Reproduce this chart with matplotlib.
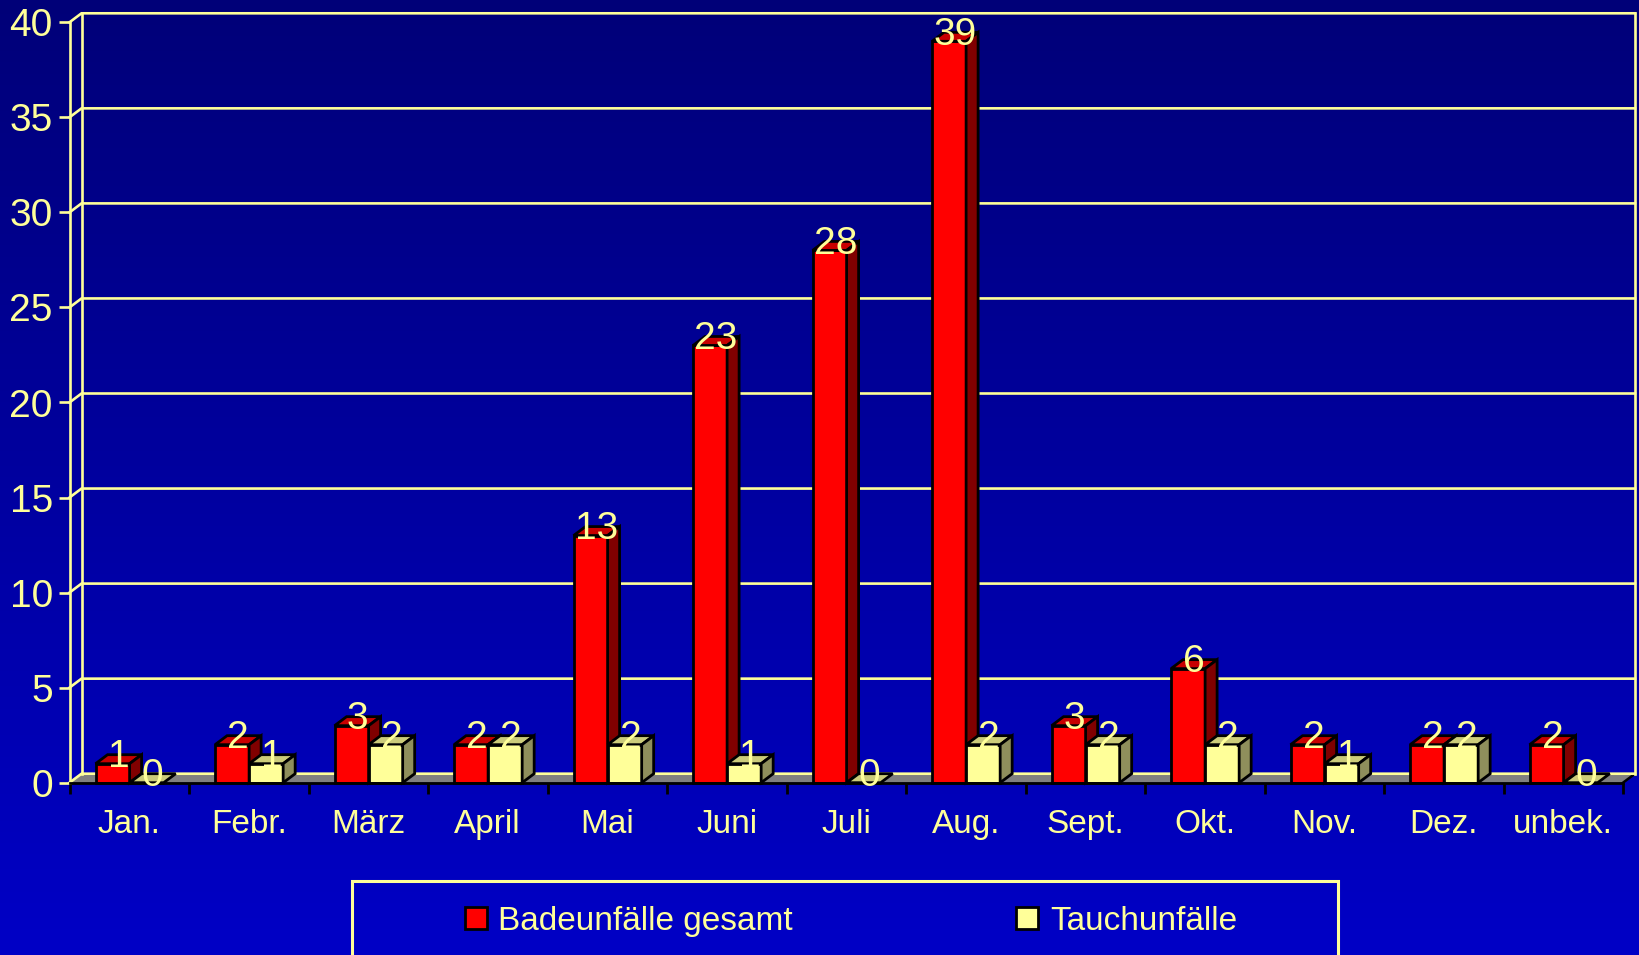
import matplotlib
matplotlib.use("Agg")
import matplotlib.pyplot as plt
import numpy as np
from matplotlib.patches import Polygon, Rectangle, Patch
from matplotlib.colors import LinearSegmentedColormap

# ---------------- data ----------------
months = ["Jan.", "Febr.", "März", "April", "Mai", "Juni", "Juli",
          "Aug.", "Sept.", "Okt.", "Nov.", "Dez.", "unbek."]
bade = [1, 2, 3, 2, 13, 23, 28, 39, 3, 6, 2, 2, 2]
tauch = [0, 1, 2, 2, 2, 1, 0, 2, 2, 2, 1, 2, 0]
series_names = ["Badeunfälle gesamt", "Tauchunfälle"]
yticks = [0, 5, 10, 15, 20, 25, 30, 35, 40]

# ---------------- style ----------------
plt.rcParams['font.family'] = ['Liberation Sans', 'DejaVu Sans']
YEL = '#FFFF99'
RED_F, RED_T, RED_S = '#FF0000', '#C80000', '#800000'
YEL_F, YEL_T, YEL_S = '#FFFF99', '#CCCC7A', '#8F8F5C'

W, H = 1639, 955
fig = plt.figure(figsize=(W / 100, H / 100), dpi=100)

# gradient background
bg = fig.add_axes([0, 0, 1, 1], zorder=-10)
grad = np.linspace(0, 1, 256)[:, None]
cmap = LinearSegmentedColormap.from_list('bg', ['#000078', '#0000C6'])
bg.imshow(grad, aspect='auto', cmap=cmap)
bg.axis('off')

# main axes (front plane)
left_px, right_px, top_px, bottom_px = 69.5, 1623.0, 22.3, 782.7
ax = fig.add_axes([left_px / W, 1 - bottom_px / H,
                   (right_px - left_px) / W, (bottom_px - top_px) / H])
ax.patch.set_alpha(0)
n = len(months)
ymax = yticks[-1]
ax.set_xlim(0, n)
ax.set_ylim(0, ymax)

# 3D depth offsets converted to data units
dx = 12.0 / ((right_px - left_px) / n)
dy = 9.0 / ((bottom_px - top_px) / ymax)

# floor
ax.add_patch(Polygon([(0, 0), (n, 0), (n + dx, dy), (dx, dy)], closed=True,
                     fc='#808080', ec='none', zorder=1.5, clip_on=False))
ax.plot([n, n + dx], [0, dy], color='black', lw=1.8, zorder=1.6, clip_on=False)

# back wall grid lines with diagonal connectors
for t in yticks:
    ax.plot([0, dx, n + dx], [t, t + dy, t + dy], color=YEL, lw=1.9,
            zorder=2, clip_on=False, solid_joinstyle='miter')
ax.plot([dx, dx], [dy, ymax + dy], color=YEL, lw=1.9, zorder=2, clip_on=False)
ax.plot([n + dx, n + dx], [dy, ymax + dy], color=YEL, lw=1.9, zorder=2, clip_on=False)


def draw_bar(x0, w, v, cf, ct, cs, z):
    ax.bar(x0, v, width=w, align='edge', color=cf, edgecolor='black',
           linewidth=2, zorder=z, clip_on=False)
    top = [(x0, v), (x0 + w, v), (x0 + w + dx, v + dy), (x0 + dx, v + dy)]
    ax.add_patch(Polygon(top, closed=True, fc=ct, ec='black', lw=2,
                         zorder=z, clip_on=False, joinstyle='miter'))
    if v > 0:
        side = [(x0 + w, 0), (x0 + w + dx, dy), (x0 + w + dx, v + dy), (x0 + w, v)]
        ax.add_patch(Polygon(side, closed=True, fc=cs, ec='black', lw=2,
                             zorder=z, clip_on=False, joinstyle='miter'))
    ax.annotate(str(v), (x0 + w / 2, v), xytext=(4.3, -2.5),
                textcoords='offset points', ha='center', va='baseline',
                color=YEL, fontsize=28, zorder=20, annotation_clip=False)


bw = 0.285
off_r = 0.218
for i, v in enumerate(bade):
    draw_bar(i + off_r, bw, v, RED_F, RED_T, RED_S, 3 + i * 0.01)
for i, v in enumerate(tauch):
    draw_bar(i + off_r + bw, bw, v, YEL_F, YEL_T, YEL_S, 4 + i * 0.01)

# spines
for s in ['top', 'right']:
    ax.spines[s].set_visible(False)
ax.spines['left'].set_color(YEL)
ax.spines['left'].set_linewidth(1.9)
ax.spines['left'].set_zorder(2)
ax.spines['bottom'].set_color('black')
ax.spines['bottom'].set_linewidth(2)
ax.spines['bottom'].set_zorder(6)

# y ticks
ax.set_yticks(yticks)
ax.set_yticklabels([str(t) for t in yticks])
ax.tick_params(axis='y', direction='out', length=8, width=1.9, color=YEL,
               labelcolor=YEL, labelsize=28, pad=4)

# x ticks: boundaries (major) + centred labels (minor)
ax.set_xticks(np.arange(n + 1))
ax.set_xticklabels([])
ax.set_xticks(np.arange(n) + 0.5, minor=True)
ax.set_xticklabels(months, minor=True)
ax.tick_params(axis='x', which='major', direction='out', length=7.7,
               width=2, color='black')
ax.tick_params(axis='x', which='minor', length=0, pad=19,
               labelcolor=YEL, labelsize=24)

# legend
handles = [Patch(fc=RED_F, ec='black', lw=2), Patch(fc=YEL_F, ec='black', lw=2)]
fig.legend(handles, series_names, loc='center',
           bbox_to_anchor=(851 / W, 1 - 921 / H), ncol=2, frameon=False,
           fontsize=24, handlelength=0.66, handleheight=0.66,
           handletextpad=0.35, columnspacing=6.7, labelcolor=YEL)
fig.add_artist(Rectangle((352 / W, -0.1), (1338 - 352) / W, 0.1 + 1 - 881 / H,
                         transform=fig.transFigure, fc='none', ec=YEL, lw=2.2,
                         clip_on=False))

fig.savefig('out.png', dpi=100)
